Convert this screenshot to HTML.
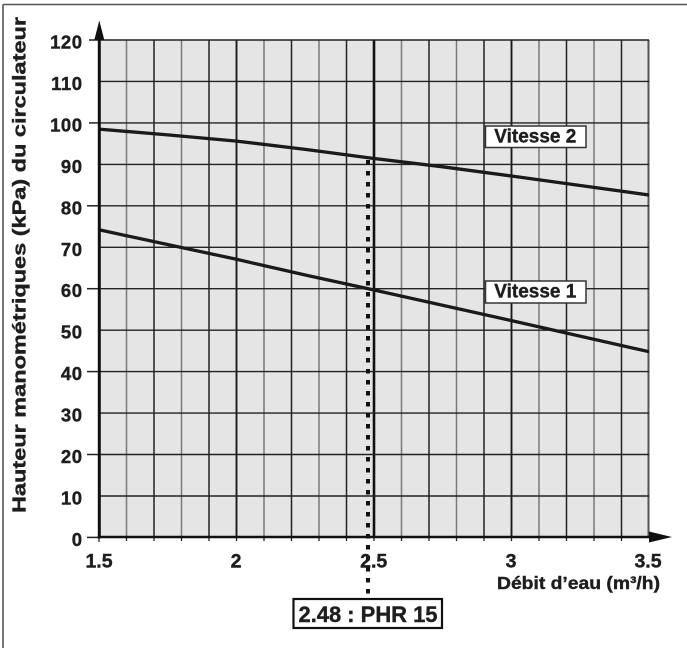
<!DOCTYPE html>
<html><head><meta charset="utf-8"><style>
html,body{margin:0;padding:0;background:#fff;}
svg{display:block;}
text{font-family:"Liberation Sans",Arial,sans-serif;font-weight:bold;fill:#1e1e1e;stroke:#1e1e1e;stroke-width:0.4px;}
</style></head><body>
<svg width="687" height="648" viewBox="0 0 687 648" xmlns="http://www.w3.org/2000/svg">
<!-- outer frame -->
<line x1="3" y1="4.5" x2="687" y2="4.5" stroke="#555" stroke-width="1.6"/>
<line x1="3" y1="4.5" x2="3" y2="648" stroke="#555" stroke-width="1.6"/>

<!-- plot background -->
<rect x="99" y="40" width="550" height="497.4" fill="#e5e5e6"/>

<!-- vertical grid: odd gray, even dark -->
<g stroke-width="1.5">
<line x1="126.5" y1="40" x2="126.5" y2="537" stroke="#7a7a7a"/>
<line x1="154" y1="40" x2="154" y2="537" stroke="#222"/>
<line x1="181.5" y1="40" x2="181.5" y2="537" stroke="#7a7a7a"/>
<line x1="209" y1="40" x2="209" y2="537" stroke="#222"/>
<line x1="236.5" y1="40" x2="236.5" y2="537" stroke="#1a1a1a" stroke-width="1.9"/>
<line x1="264" y1="40" x2="264" y2="537" stroke="#7a7a7a"/>
<line x1="291.5" y1="40" x2="291.5" y2="537" stroke="#222"/>
<line x1="319" y1="40" x2="319" y2="537" stroke="#7a7a7a"/>
<line x1="346.5" y1="40" x2="346.5" y2="537" stroke="#222"/>
<line x1="374" y1="40" x2="374" y2="537" stroke="#111" stroke-width="2.6"/>
<line x1="401.5" y1="40" x2="401.5" y2="537" stroke="#7a7a7a"/>
<line x1="429" y1="40" x2="429" y2="537" stroke="#222"/>
<line x1="456.5" y1="40" x2="456.5" y2="537" stroke="#7a7a7a"/>
<line x1="484" y1="40" x2="484" y2="537" stroke="#222"/>
<line x1="511.5" y1="40" x2="511.5" y2="537" stroke="#1a1a1a" stroke-width="1.9"/>
<line x1="539" y1="40" x2="539" y2="537" stroke="#7a7a7a"/>
<line x1="566.5" y1="40" x2="566.5" y2="537" stroke="#222"/>
<line x1="594" y1="40" x2="594" y2="537" stroke="#7a7a7a"/>
<line x1="621.5" y1="40" x2="621.5" y2="537" stroke="#222"/>
<line x1="648.5" y1="40" x2="648.5" y2="537" stroke="#555" stroke-width="2"/>
</g>
<!-- horizontal grid -->
<g stroke="#222" stroke-width="1.4">
<line x1="99" y1="40" x2="649" y2="40"/>
<line x1="99" y1="81.45" x2="649" y2="81.45"/>
<line x1="99" y1="122.9" x2="649" y2="122.9"/>
<line x1="99" y1="164.4" x2="649" y2="164.4"/>
<line x1="99" y1="205.8" x2="649" y2="205.8"/>
<line x1="99" y1="247.3" x2="649" y2="247.3"/>
<line x1="99" y1="288.7" x2="649" y2="288.7"/>
<line x1="99" y1="330.2" x2="649" y2="330.2"/>
<line x1="99" y1="371.6" x2="649" y2="371.6"/>
<line x1="99" y1="413.1" x2="649" y2="413.1"/>
<line x1="99" y1="454.5" x2="649" y2="454.5"/>
<line x1="99" y1="496" x2="649" y2="496"/>
</g>

<!-- y ticks -->
<g stroke="#222" stroke-width="1.5">
<line x1="89" y1="40" x2="99" y2="40"/>
<line x1="89" y1="122.9" x2="99" y2="122.9"/>
<line x1="87" y1="205.8" x2="99" y2="205.8"/>
<line x1="87" y1="288.7" x2="99" y2="288.7"/>
<line x1="87" y1="371.6" x2="99" y2="371.6"/>
<line x1="87" y1="454.5" x2="99" y2="454.5"/>
<line x1="87" y1="537.4" x2="99" y2="537.4"/>
</g>
<!-- x ticks -->
<g stroke="#222" stroke-width="1.3">
<line x1="99" y1="537" x2="99" y2="542"/>
<line x1="126.5" y1="537" x2="126.5" y2="541"/>
<line x1="154" y1="537" x2="154" y2="541"/>
<line x1="181.5" y1="537" x2="181.5" y2="541"/>
<line x1="209" y1="537" x2="209" y2="541"/>
<line x1="236.5" y1="537" x2="236.5" y2="541"/>
<line x1="264" y1="537" x2="264" y2="541"/>
<line x1="291.5" y1="537" x2="291.5" y2="541"/>
<line x1="319" y1="537" x2="319" y2="541"/>
<line x1="346.5" y1="537" x2="346.5" y2="541"/>
<line x1="374" y1="537" x2="374" y2="541"/>
<line x1="401.5" y1="537" x2="401.5" y2="541"/>
<line x1="429" y1="537" x2="429" y2="541"/>
<line x1="456.5" y1="537" x2="456.5" y2="541"/>
<line x1="484" y1="537" x2="484" y2="541"/>
<line x1="511.5" y1="537" x2="511.5" y2="541"/>
<line x1="539" y1="537" x2="539" y2="541"/>
<line x1="566.5" y1="537" x2="566.5" y2="541"/>
<line x1="594" y1="537" x2="594" y2="541"/>
<line x1="621.5" y1="537" x2="621.5" y2="541"/>
</g>

<!-- curves -->
<polyline fill="none" stroke="#1a1a1a" stroke-width="3.3" stroke-linejoin="round"
 points="99,129.1 167.75,134.9 236.5,141.1 305.25,149.4 374,158.5 442.75,166.8 511.5,176 580.25,185.5 649,195"/>
<polyline fill="none" stroke="#1a1a1a" stroke-width="3.3" stroke-linejoin="round"
 points="99,229.8 236.5,259.3 305.25,275 374,290 511.5,320.6 649,351.7"/>

<!-- axes -->
<line x1="99.3" y1="38" x2="99.3" y2="538.5" stroke="#111" stroke-width="3"/>
<line x1="97.8" y1="537" x2="651" y2="537" stroke="#111" stroke-width="2.6"/>
<polygon points="99.3,20.5 94.3,40 104.3,40" fill="#111"/>
<polygon points="672,537 649,531.5 649,542.5" fill="#111"/>

<!-- dotted line -->
<line x1="368" y1="160" x2="368" y2="599" stroke="#111" stroke-width="4" stroke-dasharray="4.5 6.5"/>

<!-- y labels -->
<g font-size="18.5" text-anchor="end" letter-spacing="0.5">
<text x="82.5" y="48.5">120</text>
<text x="82.5" y="90">110</text>
<text x="82.5" y="131.4">100</text>
<text x="82.5" y="172.9">90</text>
<text x="82.5" y="214.3">80</text>
<text x="82.5" y="255.8">70</text>
<text x="82.5" y="297.2">60</text>
<text x="82.5" y="338.7">50</text>
<text x="82.5" y="380.1">40</text>
<text x="82.5" y="421.6">30</text>
<text x="82.5" y="463">20</text>
<text x="82.5" y="504.5">10</text>
<text x="82.5" y="545.9">0</text>
</g>

<!-- x labels -->
<g font-size="19.5" text-anchor="middle">
<text x="99" y="567.5">1.5</text>
<text x="236" y="567.5">2</text>
<text x="373.7" y="567.5">2.5</text>
<text x="511" y="567.5">3</text>
<text x="648" y="567.5">3.5</text>
</g>
<text x="497" y="589" font-size="17.5" textLength="163" lengthAdjust="spacingAndGlyphs">Débit d’eau (m³/h)</text>

<!-- y title -->
<text transform="translate(25.5,513) rotate(-90)" font-size="18.5" textLength="496" lengthAdjust="spacingAndGlyphs">Hauteur manométriques (kPa)  du circulateur</text>

<!-- series labels -->
<rect x="485.5" y="126" width="100.5" height="21.5" fill="#fff" stroke="#333" stroke-width="1.5"/>
<text x="494.3" y="142.5" font-size="19.5" textLength="82" lengthAdjust="spacingAndGlyphs">Vitesse 2</text>
<rect x="485.5" y="281" width="100.5" height="22" fill="#fff" stroke="#333" stroke-width="1.5"/>
<text x="494.3" y="297.3" font-size="19.5" textLength="82" lengthAdjust="spacingAndGlyphs">Vitesse 1</text>

<!-- bottom box -->
<rect x="293.5" y="599" width="148.5" height="29" fill="#fff" stroke="#111" stroke-width="2.2"/>
<text x="298.5" y="622" font-size="22" textLength="139" lengthAdjust="spacingAndGlyphs">2.48 : PHR 15</text>
</svg>
</body></html>
